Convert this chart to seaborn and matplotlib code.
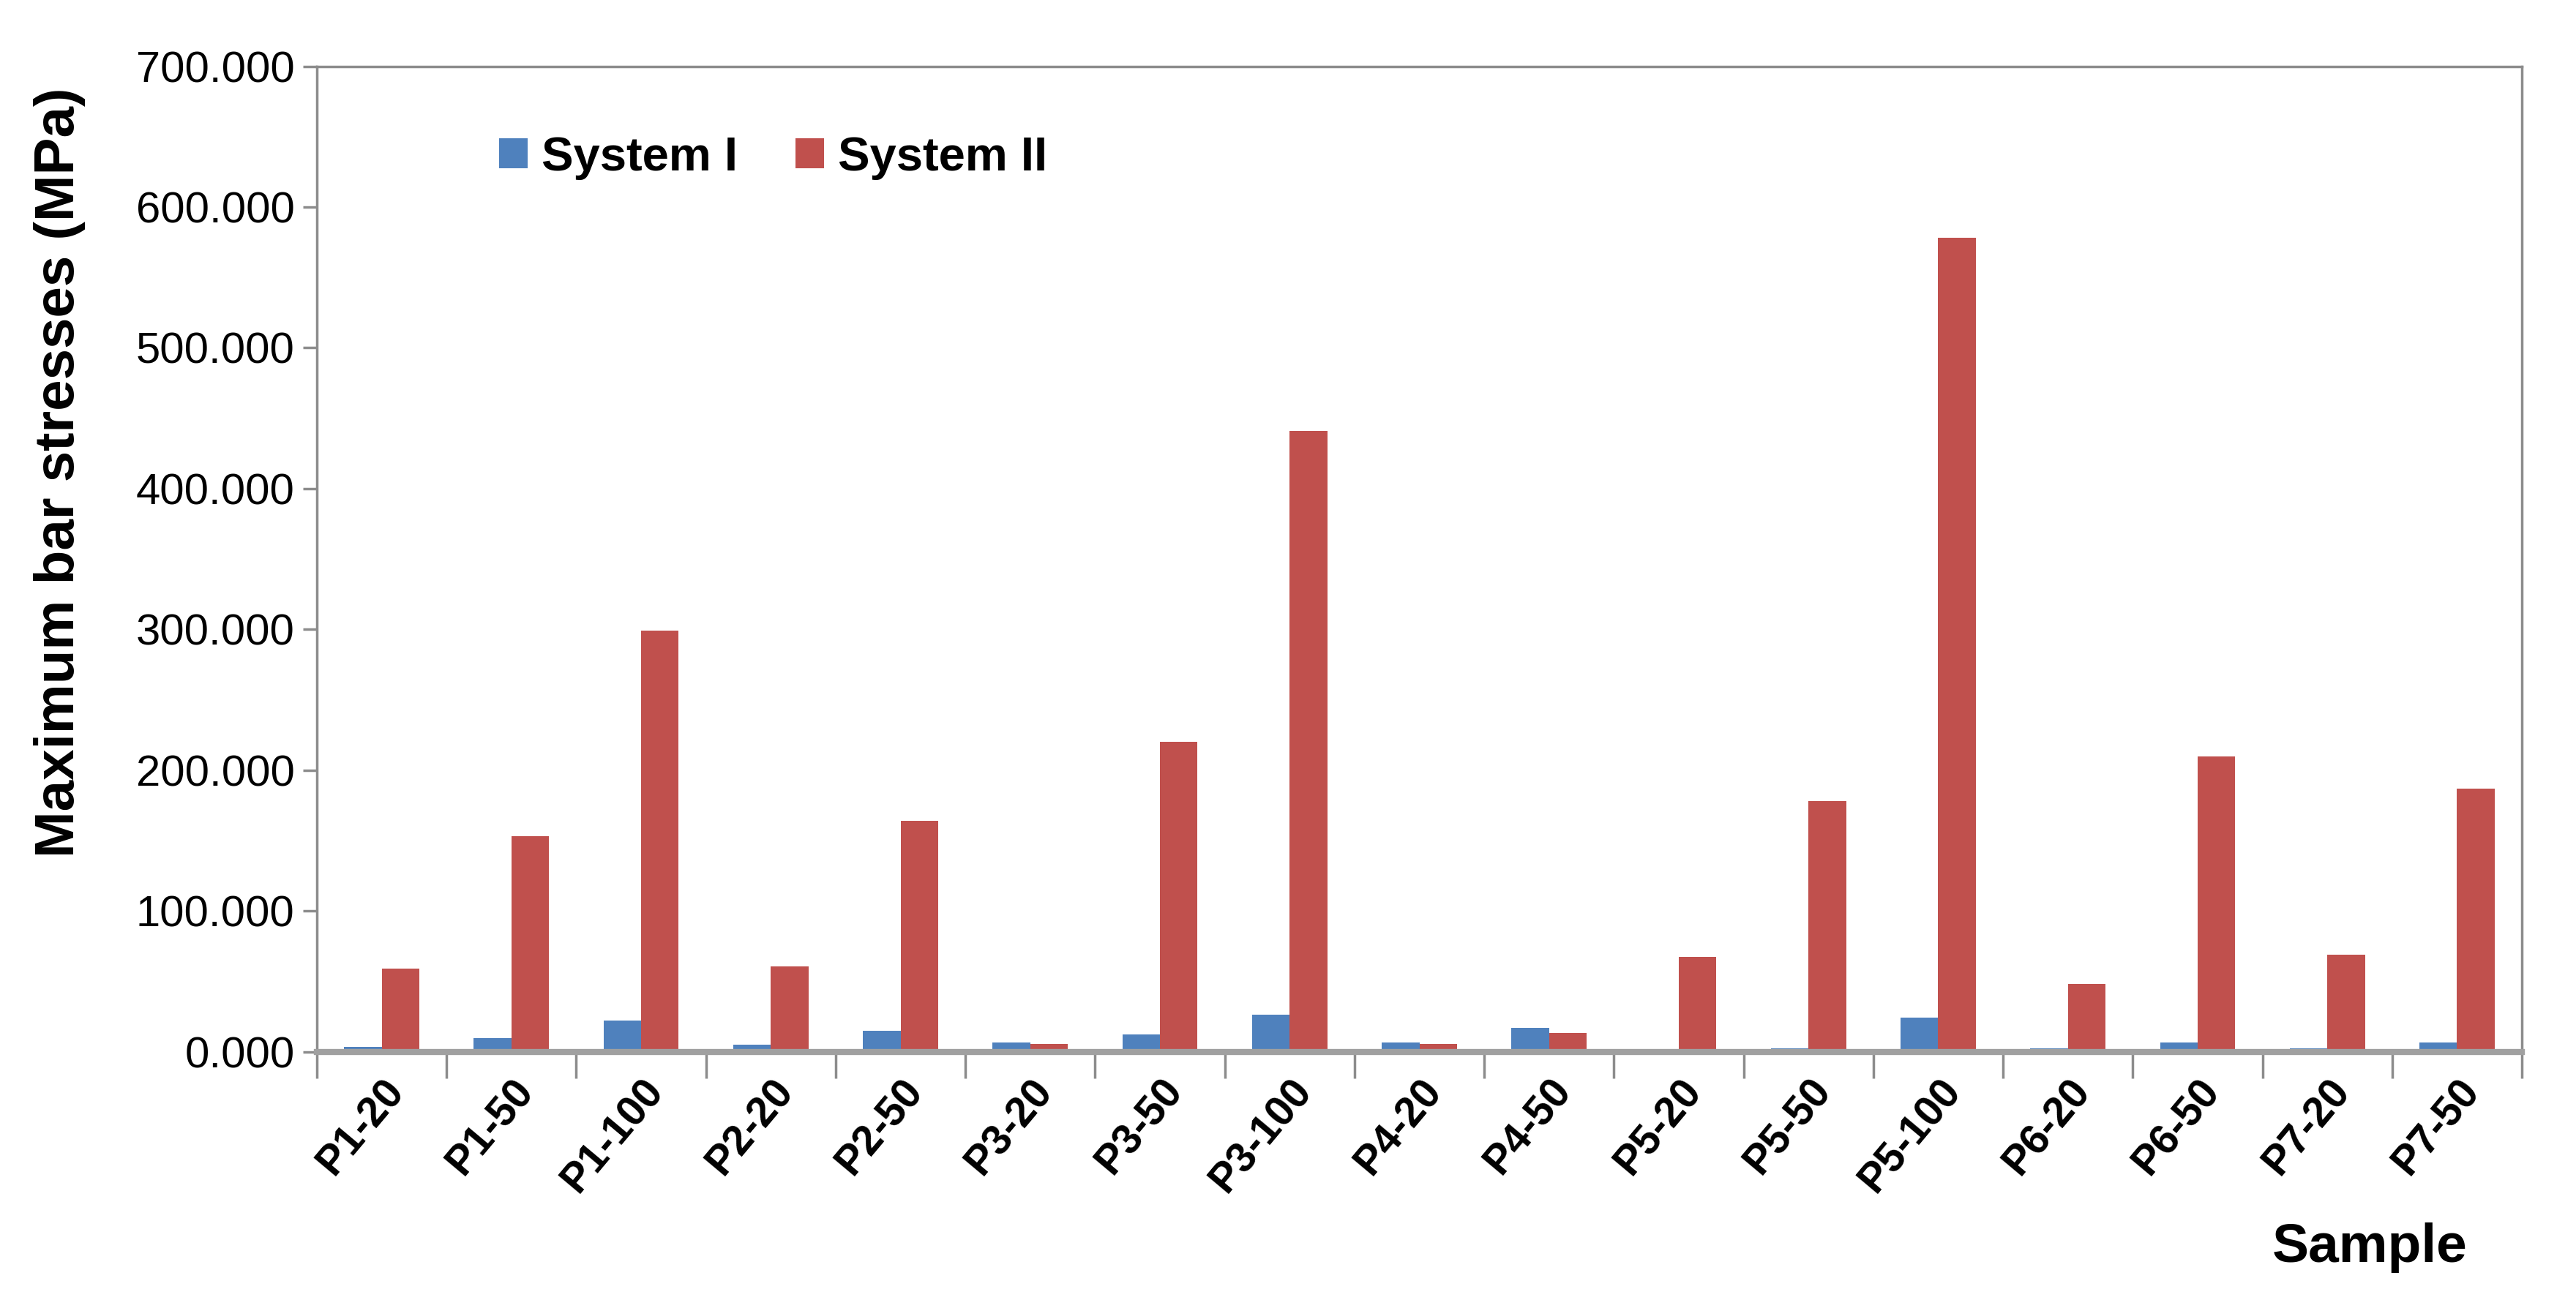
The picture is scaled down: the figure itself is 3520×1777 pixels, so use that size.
import numpy as np
import pandas as pd
import matplotlib
matplotlib.use('Agg')
import matplotlib.pyplot as plt
import seaborn as sns
from matplotlib.ticker import FormatStrFormatter, FixedLocator

# -----------------------------
# Data
# -----------------------------
samples = ['P1-20', 'P1-50', 'P1-100', 'P2-20', 'P2-50', 'P3-20', 'P3-50',
           'P3-100', 'P4-20', 'P4-50', 'P5-20', 'P5-50', 'P5-100', 'P6-20',
           'P6-50', 'P7-20', 'P7-50']
system_1 = [3.5, 9.5, 22.0, 5.0, 14.8, 6.4, 12.2, 26.4, 6.4, 17.0,
            0.0, 2.4, 24.3, 2.4, 6.4, 2.4, 6.4]
system_2 = [59.0, 153.0, 299.0, 60.5, 164.0, 5.4, 220.0, 441.0, 5.4, 13.5,
            67.5, 178.0, 578.0, 48.3, 210.0, 68.8, 187.0]
series_names = ['System I', 'System II']
colors = ['#4F81BD', '#C0504D']

df = pd.DataFrame({
    'Sample': samples * 2,
    'Stress': system_1 + system_2,
    'System': [series_names[0]] * len(samples) + [series_names[1]] * len(samples),
})

# -----------------------------
# Plot
# -----------------------------
sns.set_style('white')
plt.rcParams['font.family'] = ['Liberation Sans', 'DejaVu Sans']
plt.rcParams['text.color'] = 'black'
plt.rcParams['xtick.color'] = 'black'
plt.rcParams['ytick.color'] = 'black'
plt.rcParams['axes.labelcolor'] = 'black'

fig = plt.figure(figsize=(35.2, 17.77), dpi=100)
ax = fig.add_axes([0.123, 0.191, 0.856, 0.758])

sns.barplot(data=df, x='Sample', y='Stress', hue='System', order=samples,
            hue_order=series_names, palette=colors, width=0.58,
            saturation=1, errorbar=None, ax=ax, linewidth=0)

ax.set_ylim(0, 700)
ax.set_xlim(-0.5, len(samples) - 0.5)
ax.yaxis.set_major_locator(FixedLocator(np.arange(0, 701, 100)))
ax.yaxis.set_major_formatter(FormatStrFormatter('%.3f'))

# spines / ticks in Excel gray
for s in ax.spines.values():
    s.set_color('#8C8C8C')
    s.set_linewidth(2.5)
ax.spines['bottom'].set_linewidth(6)
ax.spines['bottom'].set_color('#A0A0A0')

ax.tick_params(axis='y', which='major', left=True, length=14, width=2.5,
               color='#8C8C8C', labelsize=43, pad=8)
ax.tick_params(axis='x', which='major', bottom=False, labelsize=41, pad=16)
ax.set_xticks(np.arange(-0.5, len(samples), 1), minor=True)
ax.tick_params(axis='x', which='minor', bottom=True, length=26, width=2.5,
               color='#8C8C8C')

for lbl in ax.get_xticklabels():
    lbl.set_rotation(50)
    lbl.set_ha('right')
    lbl.set_rotation_mode('anchor')
    lbl.set_fontweight('bold')

ax.set_ylabel('Maximum bar stresses (MPa)', fontsize=55, fontweight='bold')
ax.yaxis.set_label_coords(-0.105, 0.588)
ax.set_xlabel('')
fig.text(0.920, 0.040, 'Sample', fontsize=54, fontweight='bold',
         ha='center', va='center')

leg = ax.legend(loc='upper left', bbox_to_anchor=(0.063, 0.973), ncol=2,
                frameon=False, fontsize=47, handlelength=0.6,
                handleheight=0.6, handletextpad=0.3, columnspacing=1.2)
for t in leg.get_texts():
    t.set_fontweight('bold')

fig.savefig('out.png', dpi=100, facecolor='white')
